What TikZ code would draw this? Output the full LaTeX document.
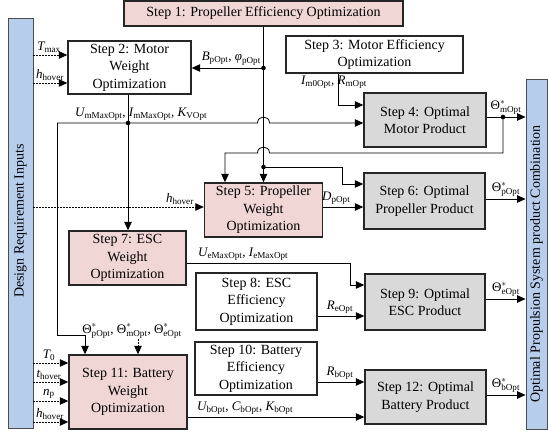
\documentclass[tikz,border=0pt]{standalone}
\usepackage{amsmath}
\usepackage{fontspec}
\setmainfont{Liberation Serif}
\newfontfamily\tfont{Liberation Serif}
\usetikzlibrary{arrows.meta}
\definecolor{pinkf}{HTML}{F0D6D5}
\definecolor{grayf}{HTML}{D9D9D9}
\definecolor{bluef}{HTML}{B6CEEB}
\newcommand{\vv}[2]{$\textit{#1}_{\text{#2}}$}
\newcommand{\tv}[1]{$\text{Θ}^{*}_{\text{#1}}$}
\tikzset{
  box/.style={draw=black!85, line width=1.4pt, align=center, inner sep=0pt,
    font=\tfont\fontsize{14}{17.5}\selectfont},
  bar/.style={draw=black!70, line width=0.9pt, fill=bluef, inner sep=0pt},
  arr/.style={-{Triangle[length=8.5pt,width=7.5pt]}, line width=0.8pt},
  darr/.style={arr, dash pattern=on 1.6pt off 1.4pt},
  lbl/.style={inner sep=1pt, font=\tfont\fontsize{13}{15}\selectfont},
  dot/.style={fill=black}
}
\begin{document}
\begin{tikzpicture}[x=1pt,y=-1pt]
\useasboundingbox (0,0) rectangle (548,438);
% bars
\node[bar, minimum width=25pt, minimum height=410pt] (lb) at (20.5,223) {};
\node[rotate=90, font=\tfont\fontsize{14}{16}\selectfont] (lbt) at (20.5,221) {Design Requirement Inputs};
\node[bar, minimum width=21pt, minimum height=350pt] (rb) at (536.5,254) {};
\node[rotate=90, font=\tfont\fontsize{14}{16}\selectfont] (rbt) at (536.5,264) {Optimal Propulsion System product Combination};
% boxes
\node[box, fill=pinkf, minimum width=279pt, minimum height=25pt] (s1) at (263.5,13.5) {Step 1: Propeller Efficiency Optimization};
\node[box, fill=white, minimum width=123pt, minimum height=53pt] (s2) at (129.5,67.5) {Step 2: Motor\\Weight\\Optimization};
\node[box, fill=white, minimum width=177pt, minimum height=37pt] (s3) at (374.5,54.5) {Step 3: Motor Efficiency\\Optimization};
\node[box, fill=grayf, minimum width=122pt, minimum height=54pt] (s4) at (425,120) {Step 4: Optimal\\Motor Product};
\node[box, fill=pinkf, minimum width=118pt, minimum height=54pt] (s5) at (263.5,210) {Step 5: Propeller\\Weight\\Optimization};
\node[box, fill=grayf, minimum width=121pt, minimum height=56pt] (s6) at (424.5,201) {Step 6: Optimal\\Propeller Product};
\node[box, fill=pinkf, minimum width=117pt, minimum height=54pt] (s7) at (127.5,258) {Step 7: ESC\\Weight\\Optimization};
\node[box, fill=white, minimum width=121pt, minimum height=57pt] (s8) at (256.5,301.5) {Step 8: ESC\\Efficiency\\Optimization};
\node[box, fill=grayf, minimum width=120pt, minimum height=56pt] (s9) at (425,302) {Step 9: Optimal\\ESC Product};
\node[box, fill=white, minimum width=122pt, minimum height=53pt] (s10) at (256,368.5) {Step 10: Battery\\Efficiency\\Optimization};
\node[box, fill=pinkf, minimum width=118pt, minimum height=74pt] (s11) at (128,392) {Step 11: Battery\\Weight\\Optimization};
\node[box, fill=grayf, minimum width=121pt, minimum height=54pt] (s12) at (425.5,397) {Step 12: Optimal\\Battery Product};
% junction coordinates
\coordinate (j1) at (263.5,68);
\coordinate (j2) at (263.5,167);
\coordinate (j3) at (128,123);
\coordinate (j4) at (503,117);
\coordinate (c1) at (57,123);
\coordinate (c2) at (57,335);
\coordinate (c3) at (85,335);
% step 1 main vertical
\draw[arr] (s1.south) -- (s1.south |- s5.north);
\draw[arr] (j1) -- (j1 -| s2.east);
\fill[dot] (j1) circle (2.3pt);
\fill[dot] (j2) circle (2.3pt);
% step 2 down
\draw[arr] (s2.south -| j3) -- (s7.north -| j3);
\fill[dot] (j3) circle (2.3pt);
\draw[arr] (c1) -- (257.5,123) .. controls (257.5,115) and (269.5,115) .. (269.5,123) -- (c1 -| s4.west);
\draw[arr] (c1) -- (c2) -- (c3) -- (c3 |- s11.north);
% step 3 -> 4
\draw[arr] (s3.south -| 338,0) -- (338,105) -- (s4.west |- 0,105);
% motor output
\draw[arr] (s4.east |- j4) -- (rb.west |- j4);
\fill[dot] (j4) circle (2.3pt);
\draw[arr] (j4) -- (503,153) -- (269.5,153) .. controls (269.5,145) and (257.5,145) .. (257.5,153) -- (225,153) -- (s5.north -| 225,0);
% to step 6
\draw[arr] (j2) -- (342,167) -- (342,184) -- (s6.west |- 0,184);
\draw[arr] (s5.east |- 0,207) -- (s6.west |- 0,207);
\draw[arr] (s6.east |- 0,199) -- (rb.west |- 0,199);
\draw[darr] (lb.east |- 0,207) -- (s5.west |- 0,207);
% ESC
\draw[arr] (s7.east |- 0,263) -- (350,263) -- (350,285) -- (s9.west |- 0,285);
\draw[arr] (s8.east |- 0,316) -- (s9.west |- 0,316);
\draw[arr] (s9.east |- 0,299) -- (rb.west |- 0,299);
% battery
\draw[arr] (s10.east |- 0,382) -- (s12.west |- 0,382);
\draw[arr] (s12.east |- 0,395) -- (rb.west |- 0,395);
\draw[arr] (s11.east |- 0,417) -- (s12.west |- 0,417);
% step 2 inputs
\draw[darr] (lb.east |- 0,55) -- (s2.west |- 0,55);
\draw[darr] (lb.east |- 0,83) -- (s2.west |- 0,83);
% step 11 inputs
\draw[darr] (lb.east |- 0,363) -- (s11.west |- 0,363);
\draw[darr] (lb.east |- 0,382) -- (s11.west |- 0,382);
\draw[darr] (lb.east |- 0,401) -- (s11.west |- 0,401);
\draw[darr] (lb.east |- 0,422) -- (s11.west |- 0,422);
% theta label and dotted arrow
\node[lbl] (tl) at (132,331) {\tv{pOpt}, \tv{mOpt}, \tv{eOpt}};
\draw[darr] (tl.south -| 138,0) -- (s11.north -| 138,0);
% labels
\node[lbl, anchor=south east] (lB) at (262,67) {\vv{B}{pOpt}, \vv{φ}{pOpt}};
\node[lbl, anchor=south west] (lU) at (74,122) {\vv{U}{mMaxOpt}, \vv{I}{mMaxOpt}, \vv{K}{VOpt}};
\node[lbl, anchor=south] (lI) at (334,90) {\vv{I}{m0Opt}, \vv{R}{mOpt}};
\node[lbl, anchor=south] (lt4) at (506,116) {\tv{mOpt}};
\node[lbl, anchor=south west] (lD) at (321,206) {\vv{D}{pOpt}};
\node[lbl, anchor=south] (lt6) at (506,198) {\tv{pOpt}};
\node[lbl, anchor=south east] (lh5) at (195,206) {\vv{h}{hover}};
\node[lbl, anchor=south west] (lUe) at (197,262) {\vv{U}{eMaxOpt}, \vv{I}{eMaxOpt}};
\node[lbl, anchor=south] (lRe) at (340,315) {\vv{R}{eOpt}};
\node[lbl, anchor=south] (lt9) at (506,298) {\tv{eOpt}};
\node[lbl, anchor=south] (lRb) at (340,381) {\vv{R}{bOpt}};
\node[lbl, anchor=south] (lt12) at (506,394) {\tv{bOpt}};
\node[lbl, anchor=south west] (lUb) at (196,416) {\vv{U}{bOpt}, \vv{C}{bOpt}, \vv{K}{bOpt}};
\node[lbl, anchor=south] (lTm) at (49,54) {\vv{T}{max}};
\node[lbl, anchor=south] (lh2) at (50,82) {\vv{h}{hover}};
\node[lbl, anchor=south] (lT0) at (49,362) {\vv{T}{0}};
\node[lbl, anchor=south] (lth) at (49,381) {\vv{t}{hover}};
\node[lbl, anchor=south] (lnp) at (49,400) {\vv{n}{p}};
\node[lbl, anchor=south] (lh11) at (50,421) {\vv{h}{hover}};
\end{tikzpicture}
\end{document}
